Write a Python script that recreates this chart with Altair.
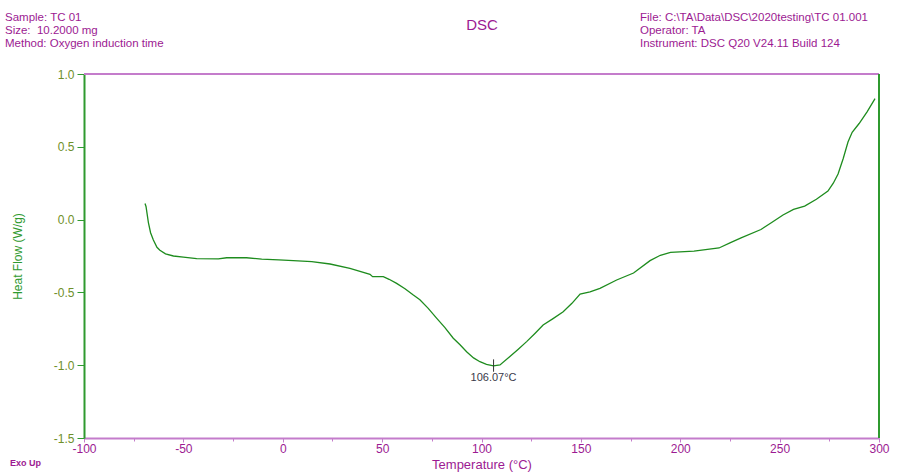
import altair as alt
import pandas as pd

# ---- data ----
temp = [-69.3, -68.8, -67.6, -66.5, -65.1, -63.3, -61.8, -59.0, -55.0, -50.0,
        -43.3, -32.4, -28.2, -18.2, -10.6, -2.0, 5.3, 14.6, 23.8, 33.8,
        43.9, 45.2, 50.6, 53.5, 57.3, 61.5, 65.7, 69.0, 73.2, 77.5,
        81.5, 85.8, 89.2, 92.5, 96.0, 99.2, 102.5, 106.0, 109.3, 114.3,
        118.5, 122.7, 127.0, 131.0, 136.0, 141.1, 145.5, 149.6, 154.6, 159.6,
        168.0, 176.5, 184.8, 190.0, 195.1, 206.9, 219.5, 225.0, 230.6, 240.6,
        246.0, 251.7, 257.0, 262.6, 268.5, 274.3, 277.0, 279.4, 282.0, 284.4,
        286.5, 290.0, 294.0, 298.0]
heat = [0.11, 0.09, -0.02, -0.09, -0.14, -0.19, -0.21, -0.235, -0.25, -0.258,
        -0.268, -0.27, -0.262, -0.262, -0.272, -0.276, -0.282, -0.289, -0.305, -0.335,
        -0.376, -0.392, -0.392, -0.41, -0.438, -0.475, -0.518, -0.55, -0.61, -0.678,
        -0.74, -0.815, -0.86, -0.907, -0.95, -0.976, -0.995, -1.005, -0.998, -0.94,
        -0.89, -0.838, -0.78, -0.724, -0.68, -0.633, -0.575, -0.511, -0.497, -0.472,
        -0.415, -0.367, -0.282, -0.245, -0.225, -0.216, -0.195, -0.16, -0.126, -0.068,
        -0.02, 0.032, 0.07, 0.093, 0.14, 0.196, 0.25, 0.313, 0.42, 0.533,
        0.6, 0.66, 0.74, 0.831]

peak_temp = [106.07]
peak_top = [-0.96]
peak_bottom = [-1.045]
peak_label_y = [-1.09]
peak_label = ["106.07°C"]

x_ticks = [-100, -87.5, -75, -62.5, -50, -37.5, -25, -12.5, 0, 12.5, 25, 37.5,
           50, 62.5, 75, 87.5, 100, 112.5, 125, 137.5, 150, 162.5, 175, 187.5,
           200, 212.5, 225, 237.5, 250, 262.5, 275, 287.5, 300]
y_ticks = [-1.5, -1.375, -1.25, -1.125, -1.0, -0.875, -0.75, -0.625, -0.5,
           -0.375, -0.25, -0.125, 0.0, 0.125, 0.25, 0.375, 0.5, 0.625, 0.75,
           0.875, 1.0]

left_header = ["Sample: TC 01", "Size:\u00a0 10.2000 mg", "Method: Oxygen induction time"]
right_header = ["File: C:\\TA\\Data\\DSC\\2020testing\\TC 01.001", "Operator: TA",
                "Instrument: DSC Q20 V24.11 Build 124"]
header_y = [-56, -43, -30]
center_title = ["DSC"]
corner_note = ["Exo Up"]

# ---- styles ----
W, H = 795, 364
PURPLE = "#9c1a92"
FRAME_PURPLE = "#c47ccb"
GREEN = "#2f9a2f"
CURVE = "#1e8c1e"
YLAB = "#6f8f2a"
FONT = "Liberation Sans"

xs = alt.Scale(domain=[-100, 300], nice=False, zero=False)
ys = alt.Scale(domain=[-1.5, 1.0], nice=False, zero=False)

df = pd.DataFrame({"T": temp, "HF": heat})

line = alt.Chart(df).mark_line(color=CURVE, strokeWidth=1.3).encode(
    x=alt.X("T:Q", scale=xs, axis=alt.Axis(
        values=x_ticks,
        labelExpr="datum.value % 50 === 0 ? replace(datum.label, '−', '-') : ''",
        title="Temperature (°C)", grid=False,
        domainColor=FRAME_PURPLE, domainWidth=2,
        tickColor=FRAME_PURPLE,
        tickSize={"condition": {"test": "datum.value % 50 === 0", "value": 4}, "value": 3},
        labelColor=PURPLE, titleColor=PURPLE,
        labelFont=FONT, titleFont=FONT, labelFontSize=12, titleFontSize=13,
        titleFontWeight="normal", labelPadding=1, titlePadding=4,
        labelFlush=False, labelOverlap=False)),
    y=alt.Y("HF:Q", scale=ys, axis=alt.Axis(
        values=y_ticks,
        labelExpr="abs(datum.value * 2 - round(datum.value * 2)) < 0.000001 ? replace(format(datum.value, '.1f'), '−', '-') : ''",
        title="Heat Flow (W/g)", grid=False,
        domainColor=GREEN, domainWidth=2,
        tickColor=GREEN,
        tickSize={"condition": {"test": "abs(datum.value * 2 - round(datum.value * 2)) < 0.000001", "value": 7}, "value": 4},
        labelColor=YLAB, titleColor=GREEN,
        labelFont=FONT, titleFont=FONT, labelFontSize=12, titleFontSize=12,
        titleFontWeight="normal", labelPadding=3, titlePadding=29,
        labelFlush=False, labelOverlap=False)),
)

top_rule = alt.Chart(pd.DataFrame({"a": [0]})).mark_rule(color=FRAME_PURPLE, strokeWidth=2).encode(
    x=alt.value(0), x2=alt.value(W), y=alt.value(0))
right_rule = alt.Chart(pd.DataFrame({"a": [0]})).mark_rule(color=GREEN, strokeWidth=2).encode(
    x=alt.value(W), y=alt.value(0), y2=alt.value(H))

peak_df = pd.DataFrame({"T": peak_temp, "y1": peak_top, "y2": peak_bottom,
                        "ly": peak_label_y, "lab": peak_label})
peak_tick = alt.Chart(peak_df).mark_rule(color="#333333", strokeWidth=1).encode(
    x=alt.X("T:Q", scale=xs), y=alt.Y("y1:Q", scale=ys), y2="y2:Q")
peak_text = alt.Chart(peak_df).mark_text(
    color="#3a3a4a", font=FONT, fontSize=11, baseline="middle", align="center").encode(
    x=alt.X("T:Q", scale=xs), y=alt.Y("ly:Q", scale=ys), text="lab:N")

lh = pd.DataFrame({"t": left_header, "y": header_y})
rh = pd.DataFrame({"t": right_header, "y": header_y})
left_txt = alt.Chart(lh).mark_text(color=PURPLE, font=FONT, fontSize=11.5,
                                   align="left", baseline="middle").encode(
    x=alt.value(-79), y=alt.Y("y:Q", scale=None), text="t:N")
right_txt = alt.Chart(rh).mark_text(color=PURPLE, font=FONT, fontSize=11.5,
                                    align="left", baseline="middle").encode(
    x=alt.value(556), y=alt.Y("y:Q", scale=None), text="t:N")
dsc_txt = alt.Chart(pd.DataFrame({"t": center_title})).mark_text(
    color=PURPLE, font=FONT, fontSize=15, align="center", baseline="middle").encode(
    x=alt.value(398), y=alt.value(-49), text="t:N")
exo_txt = alt.Chart(pd.DataFrame({"t": corner_note})).mark_text(
    color=PURPLE, font=FONT, fontSize=9, fontWeight="bold", align="left", baseline="middle").encode(
    x=alt.value(-74), y=alt.value(389), text="t:N")

chart = alt.layer(
    line, top_rule, right_rule, peak_tick, peak_text,
    left_txt, right_txt, dsc_txt, exo_txt
).properties(
    width=W, height=H,
    autosize=alt.AutoSizeParams(type="none"),
    padding={"left": 84, "top": 74, "right": 36, "bottom": 34},
).configure_view(stroke=None).configure(background="white")

chart.save("out.html", embed_options={"renderer": "svg", "actions": False})
